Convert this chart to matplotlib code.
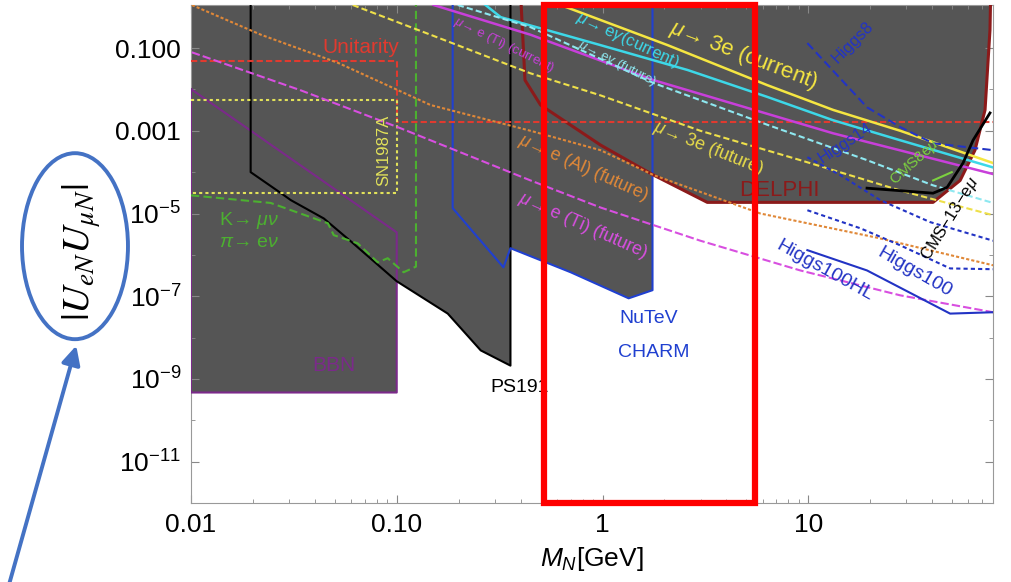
# Heavy neutral lepton limits on |U_eN U_muN| vs M_N

import numpy as np
import matplotlib.pyplot as plt
import matplotlib.transforms as mtransforms
from matplotlib.patches import Ellipse, FancyArrowPatch, Rectangle
from matplotlib.ticker import NullFormatter

plt.rcParams['font.family'] = ['Liberation Sans', 'DejaVu Sans']
plt.rcParams['mathtext.fontset'] = 'custom'
plt.rcParams['mathtext.rm'] = 'Liberation Sans'
plt.rcParams['mathtext.it'] = 'Liberation Sans:italic'
plt.rcParams['mathtext.bf'] = 'Liberation Sans:bold'

YTOP = 2.0

# excluded regions (mass in GeV, mixing)
bbn_m = [0.01, 0.1, 0.1, 0.01, 0.01]
bbn_u = [0.0102, 3.5e-6, 4.7e-10, 4.7e-10, 0.0102]

ps191_m = [0.0195, 0.0195, 0.0274, 0.0306, 0.0442, 0.060, 0.100, 0.177, 0.256, 0.357, 0.357]
ps191_u = [YTOP, 1.0e-4, 3.1e-5, 2.1e-5, 7.6e-6, 2.1e-6, 2.3e-7, 3.8e-8, 4.9e-9, 2.1e-9, YTOP]

nutev_m = [0.187, 0.187, 0.33, 0.357, 0.70, 1.34, 1.75, 1.75]
nutev_u = [YTOP, 1.35e-5, 5.0e-7, 1.45e-6, 3.8e-7, 8.9e-8, 1.4e-7, YTOP]

delphi_m = [0.40, 0.42, 0.50, 0.98, 1.77, 3.23, 40.4, 54.7, 64.6, 72.3, 76.4, 77.0]
delphi_u = [YTOP, 0.0168, 4.2e-3, 4.5e-4, 8.5e-5, 1.86e-5, 1.86e-5, 6.3e-5, 3.4e-4, 3.2e-3, 0.275, YTOP]

cms13_m = [19.3, 40.4, 47.3, 56.5, 63.2, 76.4]
cms13_u = [4.1e-5, 3.1e-5, 4.3e-5, 1.66e-4, 5.9e-4, 2.7e-3]

cms8_m = [40.4, 49.8]
cms8_u = [6.3e-5, 1.0e-4]

# other bounds
unit_m = [0.01, 0.1, 0.1, 80]
unit_u = [0.048, 0.048, 1.6e-3, 1.6e-3]

sn_m = [0.01, 0.1, 0.1, 0.01]
sn_u = [5.5e-3, 5.5e-3, 3.1e-5, 3.1e-5]

kpi_m = [0.01, 0.0244, 0.0463, 0.0494, 0.0646, 0.0809, 0.0904, 0.108, 0.124, 0.124]
kpi_u = [2.75e-5, 1.8e-5, 5.8e-6, 3.0e-6, 1.9e-6, 6.6e-7, 8.3e-7, 3.8e-7, 5.2e-7, YTOP]

# mu -> e conversion / decays
al_fut_m = [0.0101, 0.0219, 0.0518, 0.146, 0.447, 0.977, 1.77, 5.85, 21.6, 79.1]
al_fut_u = [1.1, 0.21, 0.044, 4.2e-3, 1.0e-3, 3.4e-4, 8.5e-5, 1.0e-5, 2.6e-6, 5.6e-7]

ti_fut_m = [0.0101, 0.0342, 0.1045, 0.447, 0.977, 2.99, 9.15, 28.0, 79.1]
ti_fut_u = [0.079, 9.5e-3, 1.15e-3, 6.3e-5, 1.4e-5, 2.2e-6, 4.2e-7, 1.05e-7, 4.1e-8]

ti_cur_m = [0.151, 0.447, 1.77, 13.2, 79.1]
ti_cur_u = [1.1, 0.21, 0.0168, 8.7e-4, 0.9e-4]

e3_fut_m = [0.0611, 0.146, 0.447, 0.977, 2.99, 9.15, 28.0, 79.1]
e3_fut_u = [1.1, 0.21, 0.0245, 7.2e-3, 1.0e-3, 1.95e-4, 3.6e-5, 9.1e-6]

e3_cur_m = [0.625, 2.07, 6.32, 13.2, 28.0, 79.1]
e3_cur_u = [1.1, 0.118, 0.0127, 3.2e-3, 1.0e-3, 1.66e-4]

eg_cur_m = [0.270, 0.320, 0.977, 2.59, 6.32, 13.2, 28.0, 79.1]
eg_cur_u = [1.1, 0.56, 0.118, 0.0295, 6.6e-3, 1.8e-3, 5.9e-4, 1.3e-4]

eg_fut_m = [0.198, 0.447, 1.77, 6.32, 19.3, 40.4, 79.1]
eg_fut_u = [1.1, 0.32, 0.0143, 1.4e-3, 1.95e-4, 4.8e-5, 1.8e-5]

# Higgs decay projections
h8_m = [9.9, 19.3, 28.0, 40.4, 79.1]
h8_u = [0.132, 3.7e-3, 1.23e-3, 5.0e-4, 3.4e-4]

h14_m = [9.9, 14.3, 22.4, 39.1, 79.1]
h14_u = [2.3e-4, 8.5e-5, 2.1e-5, 6.2e-6, 2.2e-6]

h100_m = [9.9, 17.9, 28.0, 48.9, 79.1]
h100_u = [1.2e-5, 4.4e-6, 1.7e-6, 4.7e-7, 4.5e-7]

h100hl_m = [9.9, 19.3, 48.9, 79.1]
h100hl_u = [1.3e-6, 4.2e-7, 3.8e-8, 4.1e-8]

box_m = [0.517, 5.53]

gray = '#555555'
blue = '#2233C4'

fig = plt.figure(figsize=(10.12, 5.82), dpi=100)
ax = fig.add_axes([0.1887, 0.1357, 0.7925, 0.8557])
ax.set_xscale('log')
ax.set_yscale('log')
ax.set_xlim(0.01, 79)
ax.set_ylim(1e-12, 1.1)

# shaded exclusions
ax.fill([min(bbn_m), max(bbn_m), max(bbn_m), min(bbn_m)],
        [min(bbn_u), min(bbn_u), YTOP, YTOP], color=gray, lw=0, zorder=1)
ax.fill(ps191_m, ps191_u, color=gray, lw=0, zorder=1)
ax.fill(nutev_m, nutev_u, color=gray, lw=0, zorder=1)
ax.fill(delphi_m, delphi_u, color=gray, lw=0, zorder=1)

# outlines
ax.plot(bbn_m, bbn_u, color='#7B2A8A', lw=1.5, zorder=3)
ax.plot(ps191_m, ps191_u, color='black', lw=1.5, zorder=3)
ax.plot(nutev_m, nutev_u, color='#2040D0', lw=1.5, zorder=3)
ax.plot(delphi_m, delphi_u, color='#8B1A1A', lw=2.2, zorder=3)
ax.plot(cms13_m, cms13_u, color='black', lw=2, zorder=4)
ax.plot(cms8_m, cms8_u, color='#7CD040', lw=1.5, zorder=4)

ax.plot(unit_m, unit_u, color='#E03A2F', lw=1.5, ls=(0, (3, 1.5)), zorder=3)
ax.plot(sn_m, sn_u, color='#E2E25A', lw=1.5, ls=(0, (1.5, 1.5)), zorder=3)
ax.plot(kpi_m, kpi_u, color='#4CB030', lw=1.5, ls=(0, (4, 2)), zorder=3)

ax.plot(al_fut_m, al_fut_u, color='#E08838', lw=1.5, ls=(0, (1.5, 1)), zorder=3)
ax.plot(ti_fut_m, ti_fut_u, color='#D84FE0', lw=1.5, ls=(0, (4, 1.5)), zorder=3)
ax.plot(ti_cur_m, ti_cur_u, color='#C83FDA', lw=1.8, zorder=3)
ax.plot(e3_fut_m, e3_fut_u, color='#EEE04A', lw=1.5, ls=(0, (3, 1.5)), zorder=3)
ax.plot(e3_cur_m, e3_cur_u, color='#F5E642', lw=1.8, zorder=3)
ax.plot(eg_cur_m, eg_cur_u, color='#3DD8E8', lw=1.8, zorder=3)
ax.plot(eg_fut_m, eg_fut_u, color='#8EE8F0', lw=1.5, ls=(0, (3, 1.5)), zorder=3)

ax.plot(h8_m, h8_u, color=blue, lw=1.5, ls=(0, (4, 2)), zorder=3)
ax.plot(h14_m, h14_u, color=blue, lw=1.5, ls=(0, (2, 1.5)), zorder=3)
ax.plot(h100_m, h100_u, color=blue, lw=1.5, ls=(0, (2, 1.5)), zorder=3)
ax.plot(h100hl_m, h100hl_u, color=blue, lw=1.5, zorder=3)

# labels inside the plot
def lab(x, y, s, c, fs, rot=0, **kw):
    ax.text(x, y, s, color=c, fontsize=fs, rotation=rot, ha='center', va='center',
            rotation_mode='anchor', zorder=6, **kw)

lab(0.0669, 0.106, 'Unitarity', '#E03A2F', 15)
lab(0.0865, 3.4e-4, 'SN1987A', '#E2E25A', 12, 90)
ax.text(0.0137, 6.6e-6, r'K→ $\mu\nu$', color='#4CB030', fontsize=14, va='center', zorder=6)
ax.text(0.0137, 2.0e-6, r'$\pi$→ e$\nu$', color='#4CB030', fontsize=14, va='center', zorder=6)
lab(0.0494, 2.1e-9, 'BBN', '#7B2A8A', 15)
lab(0.395, 6.2e-10, 'PS191', 'black', 14)
lab(1.67, 2.9e-8, 'NuTeV', '#2040D0', 14)
lab(1.77, 4.4e-9, 'CHARM', '#2040D0', 14)
lab(7.23, 3.6e-5, 'DELPHI', '#8B1A1A', 16)
lab(4.83, 0.065, r'$\mu$→ 3e (current)', '#F5E642', 16, -21)
lab(1.32, 0.156, r'$\mu$→ e$\gamma$(current)', '#3DD8E8', 12, -25)
lab(1.18, 0.0434, r'$\mu$→ e$\gamma$ (future)', '#8EE8F0', 9.5, -27)
lab(0.331, 0.118, r'$\mu$→ e (Ti) (current)', '#C83FDA', 9.5, -26)
lab(3.27, 3.8e-4, r'$\mu$→ 3e (future)', '#E6DA4A', 13, -22)
lab(0.809, 1.24e-4, r'$\mu$→ e (Al) (future)', '#E08838', 13, -24)
lab(0.80, 5.1e-6, r'$\mu$→ e (Ti) (future)', '#D84FE0', 13, -24)
lab(16.4, 0.14, 'Higgs8', blue, 12, 45)
lab(15.1, 5.2e-4, 'Higgs14', blue, 12, 33)
lab(33.1, 1.7e-4, r'CMS8e$\mu$', '#7CD040', 11, 42)
lab(48.9, 7.6e-6, r'CMS−13−e$\mu$', 'black', 12, 58)
lab(32.7, 3.8e-7, 'Higgs100', blue, 14, -30)
lab(12.0, 4.2e-7, 'Higgs100HL', blue, 14, -29)

# highlighted mass window
trans = mtransforms.blended_transform_factory(ax.transData, ax.transAxes)
ax.add_patch(Rectangle((box_m[0], 0), box_m[1] - box_m[0], 1, transform=trans,
                       fill=False, ec='#FF0000', lw=4.5, clip_on=False, zorder=10))

# axes styling
ax.set_xticks([0.01, 0.1, 1, 10])
ax.set_xticklabels(['0.01', '0.10', '1', '10'])
ax.xaxis.set_minor_formatter(NullFormatter())
ax.set_yticks([1e-1, 1e-3, 1e-5, 1e-7, 1e-9, 1e-11])
ax.set_yticklabels(['0.100', '0.001', r'$10^{-5}$', r'$10^{-7}$', r'$10^{-9}$', r'$10^{-11}$'])
ax.set_yticks([1e-2, 1e-4, 1e-6, 1e-8, 1e-10, 1e-12], minor=True)
ax.yaxis.set_minor_formatter(NullFormatter())
ax.tick_params(which='both', direction='in', top=True, right=True, color='#888888',
               labelsize=19, pad=7)
ax.tick_params(which='major', length=6)
ax.tick_params(which='minor', length=3)
for sp in ax.spines.values():
    sp.set_color('#999999')
ax.set_xlabel(r'$M_N$[GeV]', fontsize=19, labelpad=6)

# y label with circle and arrow
fig.text(0.081, 0.567, r'$|U_{eN}U_{\mu N}|$', rotation=90, fontsize=28,
         math_fontfamily='stix', ha='center', va='center')
fig.patches.append(Ellipse((0.0741, 0.577), 0.1047, 0.3196, transform=fig.transFigure,
                           fill=False, ec='#4472C4', lw=2.8))
fig.patches.append(FancyArrowPatch((0.008, -0.01), (0.0761, 0.4107), transform=fig.transFigure,
                                   arrowstyle='-|>', mutation_scale=28, lw=2.8,
                                   color='#4472C4'))

fig.savefig('out.png', dpi=100)
